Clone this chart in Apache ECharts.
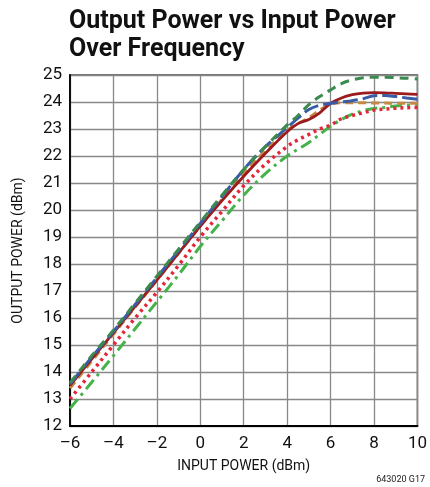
<!DOCTYPE html>
<html>
<head>
<meta charset="utf-8">
<script src="https://cdn.jsdelivr.net/npm/echarts@6/dist/echarts.min.js"></script>
<style>
html,body{margin:0;padding:0;background:#fff;}
#chart{width:430px;height:487px;}
</style>
</head>
<body>
<div id="chart"></div>
<script>
var inputPower = [-6,-5,-4,-3,-2,-1,0,1,2,3,4,4.5,5,5.5,6,6.5,7,7.5,8,8.5,9,9.5,10];
var darkGreenDashed = [13.6,14.6,15.55,16.55,17.55,18.55,19.55,20.55,21.5,22.35,23.15,23.5,23.9,24.2,24.45,24.68,24.82,24.9,24.92,24.92,24.9,24.88,24.85];
var blueLongDash = [13.55,14.55,15.5,16.5,17.5,18.5,19.5,20.5,21.5,22.35,23.05,23.4,23.72,23.88,23.95,24.0,24.05,24.12,24.23,24.24,24.2,24.15,24.1];
var darkRedSolid = [13.5,14.48,15.45,16.43,17.4,18.4,19.4,20.35,21.25,22.1,22.9,23.2,23.35,23.6,23.95,24.15,24.27,24.33,24.35,24.34,24.32,24.3,24.28];
var orangeDashed = [13.4,14.4,15.4,16.4,17.4,18.4,19.4,20.4,21.35,22.2,22.95,23.2,23.42,23.7,23.92,23.97,23.97,23.97,23.96,23.96,23.95,23.95,23.95];
var redDotted = [13.0,14.0,15.0,16.0,16.95,17.95,19.0,19.95,20.9,21.7,22.35,22.6,22.8,23.0,23.15,23.38,23.5,23.6,23.7,23.74,23.77,23.79,23.8];
var greenDashDot = [12.65,13.62,14.6,15.6,16.6,17.6,18.65,19.6,20.55,21.35,22.0,22.25,22.5,22.8,23.1,23.35,23.55,23.68,23.76,23.8,23.85,23.88,23.92];

var titleText = 'Output Power vs Input Power\nOver Frequency';
var xAxisName = 'INPUT POWER (dBm)';
var yAxisName = 'OUTPUT POWER (dBm)';
var footnote = '643020 G17';

var FONT = '"Roboto", "Liberation Sans", sans-serif';

function pairs(ys){ return inputPower.map(function(x,i){ return [x, ys[i]]; }); }
function mk(name, ys, color, type, width){
  return {
    name: name, type: 'line', data: pairs(ys), smooth: 0.35, showSymbol: false, symbol: 'none',
    lineStyle: { color: color, width: width, type: type, cap: 'butt' }, z: 3
  };
}

var chart = echarts.init(document.getElementById('chart'));
chart.setOption({
  animation: false,
  backgroundColor: '#fff',
  title: {
    text: titleText, left: 64, top: 3,
    textStyle: { fontFamily: FONT, fontWeight: 'bold', fontSize: 25, lineHeight: 28, color: '#111' }
  },
  grid: { left: 70, right: 9, top: 75, bottom: 61, show: true, borderColor: '#444', borderWidth: 1.5 },
  xAxis: {
    type: 'value', min: -6, max: 10, interval: 2,
    name: xAxisName, nameLocation: 'middle', nameGap: 33,
    nameTextStyle: { fontFamily: FONT, fontSize: 14, color: '#111' },
    axisLine: { onZero: false, lineStyle: { color: '#000', width: 1.8 } },
    axisTick: { show: false },
    axisLabel: { fontFamily: FONT, fontSize: 17, color: '#111', margin: 9,
      formatter: function(v){ return String(v).replace('-', '\u2013'); } },
    splitLine: { lineStyle: { color: '#888', width: 1.3 } }
  },
  yAxis: {
    type: 'value', min: 12, max: 25, interval: 1,
    name: yAxisName, nameLocation: 'middle', nameGap: 45,
    nameTextStyle: { fontFamily: FONT, fontSize: 14, color: '#111' },
    axisLine: { show: true, onZero: false, lineStyle: { color: '#000', width: 1.8 } },
    axisTick: { show: false },
    axisLabel: { fontFamily: FONT, fontSize: 17, color: '#111', margin: 8 },
    splitLine: { lineStyle: { color: '#888', width: 1.3 } }
  },
  graphic: [{
    type: 'text', right: 5, bottom: 3,
    style: { text: footnote, fontFamily: FONT, fontSize: 9, fill: '#222' }
  }],
  series: [
    mk('greenDashDot', greenDashDot, '#45b24a', [12,5,3,5], 3),
    mk('redDotted', redDotted, '#e3263a', [3,4], 3.5),
    mk('orangeDashed', orangeDashed, '#c48a45', [8,5], 3),
    mk('darkRedSolid', darkRedSolid, '#9b1b1f', 'solid', 2.8),
    mk('blueLongDash', blueLongDash, '#3a5ba6', [15,5], 3),
    mk('darkGreenDashed', darkGreenDashed, '#3b8a4f', [9,6], 3)
  ]
});
</script>
</body>
</html>
